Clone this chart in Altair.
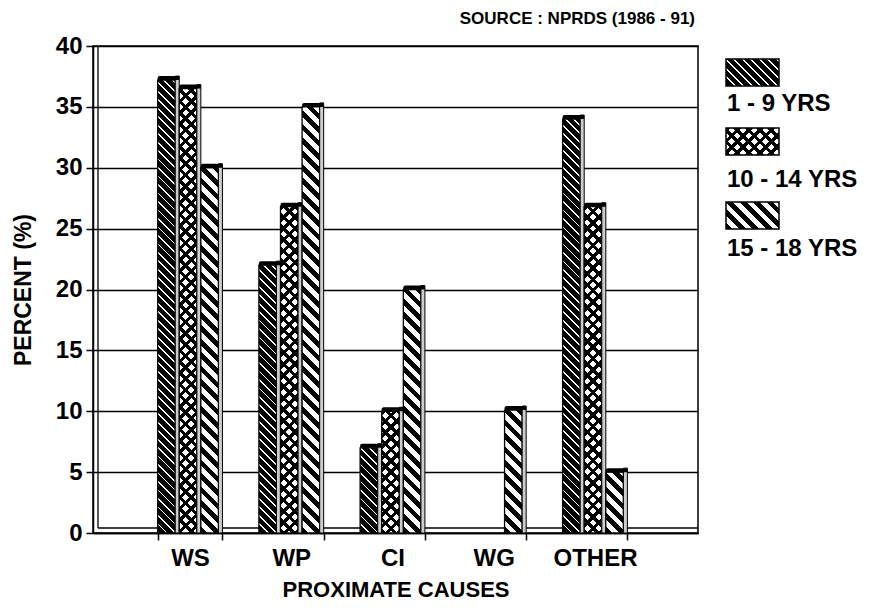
import math
import altair as alt
import pandas as pd

# ---------------- data ----------------
causes = ["WS", "WP", "CI", "WG", "OTHER"]
groups = ["1 - 9 YRS", "10 - 14 YRS", "15 - 18 YRS"]
pct_1_9 = [37.2, 22.0, 7.0, 0.0, 34.0]
pct_10_14 = [36.5, 26.8, 10.0, 0.0, 26.8]
pct_15_18 = [30.0, 35.0, 20.0, 10.1, 5.0]
y_ticks = [0, 5, 10, 15, 20, 25, 30, 35, 40]
source_note = "SOURCE : NPRDS (1986 - 91)"
x_title = "PROXIMATE CAUSES"
y_title = "PERCENT (%)"

series = [pct_1_9, pct_10_14, pct_15_18]

# ---------------- layout / style ----------------
FONT = "Liberation Sans"
W, H = 605, 487
YMAX = 40
PAD = {"left": 85, "top": 38, "right": 853 - 85 - W, "bottom": 594 - 38 - H}
P_IN, P_OUT, ALIGN = 0.36, 0.668, 0.478
step = W / (len(causes) - P_IN + 2 * P_OUT)
bandw = step * (1 - P_IN)
sub = bandw / 3
DEPTH = 4
FW = sub - DEPTH
px_per_unit = H / YMAX

xscale = alt.Scale(domain=causes, paddingInner=P_IN, paddingOuter=P_OUT, align=ALIGN)
yscale = alt.Scale(domain=[0, YMAX], nice=False)

X_AX = alt.Axis(
    title=x_title, labelAngle=0, labelFontSize=24, labelFont=FONT, labelFontWeight="bold",
    labelColor="black", labelPadding=6, tickBand="extent", ticks=True, tickColor="black",
    tickSize=7, tickWidth=1.5, domain=True, domainColor="black", domainWidth=1.5, grid=False,
    titleFontSize=22, titleFont=FONT, titleFontWeight="bold", titleColor="black",
    titlePadding=9)
Y_AX = alt.Axis(
    values=y_ticks, title=y_title, grid=True, gridColor="black", gridWidth=1.3,
    gridOpacity=1, domain=True, domainColor="black", domainWidth=1.5, ticks=True,
    tickColor="black", tickSize=7, tickWidth=1.5, labelFontSize=24, labelFont=FONT,
    labelFontWeight="bold", labelColor="black", labelPadding=4, titleFontSize=23,
    titleFont=FONT, titleFontWeight="bold", titleColor="black", titlePadding=20)

X_ENC = alt.X("cause:N", scale=xscale, axis=X_AX)
Y_ENC = alt.Y("value:Q", scale=yscale, axis=Y_AX)


def stripe_fill(w, h, direction, period, width_a, color_a, color_b):
    L = (w + h) / math.sqrt(2)
    k = (w + h) / (w * w + h * h)
    if direction == "\\":
        x1, y1, x2, y2 = 0, 1, k * w, 1 - k * h
    else:
        x1, y1, x2, y2 = 0, 0, k * w, k * h
    stops = []
    pos = 0.0
    while pos < L:
        a = round(min(pos / L, 1), 5)
        b = round(min((pos + width_a) / L, 1), 5)
        c = round(min((pos + period) / L, 1), 5)
        stops += [{"offset": a, "color": color_a}, {"offset": b, "color": color_a},
                  {"offset": b, "color": color_b}, {"offset": c, "color": color_b}]
        pos += period
    return {"gradient": "linear", "x1": x1, "y1": y1, "x2": x2, "y2": y2, "stops": stops}


HATCH = {
    0: [("\\", 6.0, 1.3, "white", "black")],
    1: [("\\", 8.0, 3.2, "black", "white"), ("/", 8.0, 3.2, "black", "rgba(0,0,0,0)")],
    2: [("\\", 9.5, 4.8, "black", "white")],
}

df_all = pd.DataFrame([
    {"cause": c, "group": g, "value": series[j][i]}
    for j, g in enumerate(groups) for i, c in enumerate(causes)
])

# base layer carrying axes and grid
base = alt.Chart(df_all).mark_bar(opacity=0).encode(x=X_ENC, y=Y_ENC)

one = pd.DataFrame({"k": [0]})
wall = alt.Chart(one).mark_rule(color="black", strokeWidth=1.3).encode(
    x=alt.value(5), y=alt.value(0), y2=alt.value(H - 5))
floor = alt.Chart(one).mark_rule(color="black", strokeWidth=1.3).encode(
    x=alt.value(5), x2=alt.value(W), y=alt.value(H - 5))

layers = [base, wall, floor]

for j, g in enumerate(groups):
    s_rel = -bandw / 2 + j * sub
    front_off = s_rel + FW / 2
    side_off = s_rel + FW + DEPTH / 2
    cap_off = s_rel + sub / 2
    vals = series[j]
    for i, c in enumerate(causes):
        v = vals[i]
        if v <= 0:
            continue
        h = v * px_per_unit
        row = pd.DataFrame({"cause": [c], "group": [g], "value": [v]})
        hl = HATCH[j]
        for k, (d, per, wa, ca, cb) in enumerate(hl):
            kw = dict(fill=stripe_fill(FW, h, d, per, wa, ca, cb), width=FW, xOffset=front_off)
            if k == len(hl) - 1:
                kw.update(stroke="black", strokeWidth=1.3)
            layers.append(alt.Chart(row).mark_bar(**kw).encode(
                x=X_ENC, y=Y_ENC, y2=alt.datum(0)))
    pos = pd.DataFrame({"cause": causes, "group": g, "value": vals})
    pos = pos[pos["value"] > 0]
    side = alt.Chart(pos).mark_bar(fill="#cccccc", stroke="black", strokeWidth=1,
                                   width=DEPTH, xOffset=side_off, yOffset=-DEPTH).encode(
        x=X_ENC, y=Y_ENC, y2=alt.datum(0))
    cap = alt.Chart(pos).mark_bar(fill="black", width=sub, xOffset=cap_off, yOffset=-DEPTH,
                                  cornerRadiusTopLeft=3).encode(
        x=X_ENC, y=Y_ENC, y2="value:Q")
    layers += [side, cap]

# legend
LX0, LX1 = 633, 686
sw_tops = [13, 82, 156]
SW_H = 27
txt_y = [58, 134, 203]
for j, g in enumerate(groups):
    lg = pd.DataFrame({"group": [g]})
    hl = HATCH[j]
    for k, (d, per, wa, ca, cb) in enumerate(hl):
        kw = dict(fill=stripe_fill(LX1 - LX0, SW_H, d, per, wa, ca, cb))
        if k == len(hl) - 1:
            kw.update(stroke="black", strokeWidth=1.5)
        layers.append(alt.Chart(lg).mark_rect(**kw).encode(
            x=alt.value(LX0), x2=alt.value(LX1),
            y=alt.value(sw_tops[j]), y2=alt.value(sw_tops[j] + SW_H)))
    layers.append(alt.Chart(lg).mark_text(
        align="left", baseline="middle", font=FONT, fontSize=24, fontWeight="bold",
        color="black").encode(
        text="group:N", x=alt.value(LX0 + 1), y=alt.value(txt_y[j])))

src = alt.Chart(pd.DataFrame({"t": [source_note]})).mark_text(
    align="right", baseline="middle", font=FONT, fontSize=17, fontWeight="bold",
    color="black").encode(text="t:N", x=alt.value(602), y=alt.value(-27))
layers.append(src)

chart = alt.layer(*layers).properties(
    width=W, height=H, padding=PAD, autosize=alt.AutoSizeParams(type="none"),
    background="white",
).configure_view(stroke="black", strokeWidth=1.5)

chart.save("out.html", embed_options={"renderer": "svg", "actions": False})
